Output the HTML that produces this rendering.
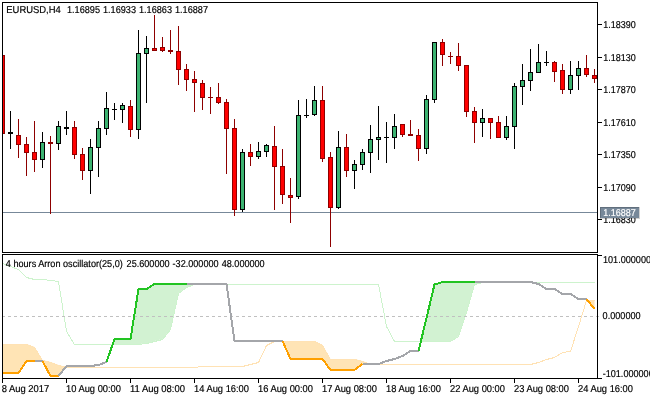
<!DOCTYPE html>
<html><head><meta charset="utf-8"><title>EURUSD H4 chart</title>
<style>html,body{margin:0;padding:0;background:#fff}body{width:650px;height:400px;overflow:hidden}</style></head>
<body>
<svg width="650" height="400" viewBox="0 0 650 400" style="display:block;font-family:'Liberation Sans',sans-serif;font-size:10px;text-rendering:geometricPrecision">
<rect width="650" height="400" fill="#fff"/>
<g>
<polygon points="2.5,263.00 3.5,263.38 4.5,263.75 5.5,264.12 6.5,264.50 7.5,264.88 8.5,265.25 9.5,265.62 10.5,266.00 11.5,266.38 12.5,266.75 13.5,267.12 14.5,267.50 15.5,267.88 16.5,268.25 17.5,268.62 18.5,269.00 19.5,270.00 20.5,271.00 21.5,272.00 22.5,273.00 23.5,274.00 24.5,275.00 25.5,276.00 26.5,277.00 27.5,277.25 28.5,277.50 29.5,277.75 30.5,278.00 31.5,278.25 32.5,278.50 33.5,278.75 34.5,279.00 35.5,279.00 36.5,279.00 37.5,279.00 38.5,279.00 39.5,279.00 40.5,279.00 41.5,279.00 42.5,279.00 43.5,279.12 44.5,279.25 45.5,279.38 46.5,279.50 47.5,279.62 48.5,279.75 49.5,279.88 50.5,280.00 51.5,280.12 52.5,280.25 53.5,280.38 54.5,280.50 55.5,280.62 56.5,280.75 57.5,280.88 58.5,281.00 59.5,287.25 60.5,293.50 61.5,299.75 62.5,306.00 63.5,312.25 64.5,318.50 65.5,324.75 66.5,331.00 67.5,332.62 68.5,334.25 69.5,335.88 70.5,337.50 71.5,339.12 72.5,340.75 73.5,342.38 74.5,344.00 75.5,344.00 76.5,344.00 77.5,344.00 78.5,344.00 79.5,344.00 80.5,344.00 81.5,344.00 82.5,344.00 83.5,344.00 84.5,344.00 85.5,344.00 86.5,344.00 87.5,344.00 88.5,344.00 89.5,344.00 90.5,344.00 91.5,344.00 92.5,344.00 93.5,344.00 94.5,344.00 95.5,344.00 96.5,344.00 97.5,344.00 98.5,344.00 99.5,344.00 100.5,344.00 101.5,344.00 102.5,344.00 103.5,344.00 104.5,344.00 105.5,344.00 106.5,344.00 107.5,344.00 108.5,344.00 109.5,344.00 110.5,344.00 111.5,344.00 112.5,344.00 113.5,341.88 114.5,339.00 115.5,339.00 116.5,339.00 117.5,339.00 118.5,339.00 119.5,339.00 120.5,339.00 121.5,339.00 122.5,339.00 123.5,339.00 124.5,339.00 125.5,339.00 126.5,339.00 127.5,339.00 128.5,339.00 129.5,339.00 130.5,339.00 131.5,332.75 132.5,326.50 133.5,320.25 134.5,314.00 135.5,307.75 136.5,301.50 137.5,295.25 138.5,289.00 139.5,289.00 140.5,289.00 141.5,289.00 142.5,289.00 143.5,289.00 144.5,289.00 145.5,289.00 146.5,289.00 147.5,288.38 148.5,287.75 149.5,287.12 150.5,286.50 151.5,285.88 152.5,285.25 153.5,284.62 154.5,284.00 155.5,284.00 156.5,284.00 157.5,284.00 158.5,284.00 159.5,284.00 160.5,284.00 161.5,284.00 162.5,284.00 163.5,284.00 164.5,284.00 165.5,284.00 166.5,284.00 167.5,284.00 168.5,284.00 169.5,284.00 170.5,284.00 171.5,284.00 172.5,284.00 173.5,284.00 174.5,284.00 175.5,284.00 176.5,284.00 177.5,284.00 178.5,284.00 179.5,284.00 180.5,284.00 181.5,284.00 182.5,284.00 183.5,284.00 184.5,284.00 185.5,284.00 186.5,284.00 187.5,284.00 188.5,284.00 189.5,284.00 190.5,284.00 191.5,284.00 192.5,284.00 193.5,284.00 194.5,284.00 195.5,284.00 196.5,284.00 197.5,284.00 198.5,284.00 199.5,284.00 200.5,284.00 201.5,284.00 202.5,284.00 203.5,284.00 204.5,284.00 205.5,284.00 206.5,284.00 207.5,284.00 208.5,284.00 209.5,284.00 210.5,284.00 211.5,284.00 212.5,284.00 213.5,284.00 214.5,284.00 215.5,284.00 216.5,284.00 217.5,284.00 218.5,284.00 219.5,284.00 220.5,284.00 221.5,284.00 222.5,284.00 223.5,284.00 224.5,284.00 225.5,284.00 226.5,284.00 227.5,284.40 228.5,284.40 229.5,284.40 230.5,284.40 231.5,284.40 232.5,284.40 233.5,284.40 234.5,284.40 235.5,284.40 236.5,284.40 237.5,284.40 238.5,284.40 239.5,284.40 240.5,284.40 241.5,284.40 242.5,284.40 243.5,284.40 244.5,284.40 245.5,284.40 246.5,284.40 247.5,284.40 248.5,284.40 249.5,284.40 250.5,284.40 251.5,284.40 252.5,284.40 253.5,284.40 254.5,284.40 255.5,284.40 256.5,284.40 257.5,284.40 258.5,284.40 259.5,284.40 260.5,284.40 261.5,284.40 262.5,284.40 263.5,284.40 264.5,284.40 265.5,284.40 266.5,284.40 267.5,284.40 268.5,284.40 269.5,284.40 270.5,284.40 271.5,284.40 272.5,284.40 273.5,284.40 274.5,284.40 275.5,284.40 276.5,284.40 277.5,284.40 278.5,284.40 279.5,284.40 280.5,284.40 281.5,284.40 282.5,284.40 283.5,284.40 284.5,284.40 285.5,284.40 286.5,284.40 287.5,284.40 288.5,284.40 289.5,284.40 290.5,284.40 291.5,284.40 292.5,284.40 293.5,284.40 294.5,284.40 295.5,284.40 296.5,284.40 297.5,284.40 298.5,284.40 299.5,284.40 300.5,284.40 301.5,284.40 302.5,284.40 303.5,284.40 304.5,284.40 305.5,284.40 306.5,284.40 307.5,284.40 308.5,284.40 309.5,284.40 310.5,284.40 311.5,284.40 312.5,284.40 313.5,284.40 314.5,284.40 315.5,284.40 316.5,284.40 317.5,284.40 318.5,284.40 319.5,284.40 320.5,284.40 321.5,284.40 322.5,284.40 323.5,284.40 324.5,284.40 325.5,284.40 326.5,284.40 327.5,284.40 328.5,284.40 329.5,284.40 330.5,284.40 331.5,284.40 332.5,284.40 333.5,284.40 334.5,284.40 335.5,284.40 336.5,284.40 337.5,284.40 338.5,284.40 339.5,284.40 340.5,284.40 341.5,284.40 342.5,284.40 343.5,284.40 344.5,284.40 345.5,284.40 346.5,284.40 347.5,284.40 348.5,284.40 349.5,284.40 350.5,284.40 351.5,284.40 352.5,284.40 353.5,284.40 354.5,284.40 355.5,284.40 356.5,284.40 357.5,284.40 358.5,284.40 359.5,284.40 360.5,284.40 361.5,284.40 362.5,284.40 363.5,284.40 364.5,284.40 365.5,284.40 366.5,284.40 367.5,284.40 368.5,284.40 369.5,284.40 370.5,284.40 371.5,284.40 372.5,284.40 373.5,284.40 374.5,284.40 375.5,284.40 376.5,284.40 377.5,284.40 378.5,284.40 379.5,289.60 380.5,294.80 381.5,300.00 382.5,305.20 383.5,310.40 384.5,315.60 385.5,320.80 386.5,326.00 387.5,327.88 388.5,329.75 389.5,331.62 390.5,333.50 391.5,335.38 392.5,337.25 393.5,339.12 394.5,341.00 395.5,341.06 396.5,341.12 397.5,341.19 398.5,341.25 399.5,341.31 400.5,341.38 401.5,341.44 402.5,341.50 403.5,341.50 404.5,341.50 405.5,341.50 406.5,341.50 407.5,341.50 408.5,341.50 409.5,341.50 410.5,341.50 411.5,341.50 412.5,341.50 413.5,341.50 414.5,341.50 415.5,341.50 416.5,341.50 417.5,341.50 418.5,341.50 419.5,341.50 420.5,341.50 421.5,338.62 422.5,334.50 423.5,330.38 424.5,326.25 425.5,322.12 426.5,318.00 427.5,313.81 428.5,309.62 429.5,305.44 430.5,301.25 431.5,297.06 432.5,292.88 433.5,288.69 434.5,284.50 435.5,284.19 436.5,283.88 437.5,283.56 438.5,283.25 439.5,282.94 440.5,282.62 441.5,282.31 442.5,282.00 443.5,282.00 444.5,282.00 445.5,282.00 446.5,282.00 447.5,282.00 448.5,282.00 449.5,282.00 450.5,282.00 451.5,282.00 452.5,282.00 453.5,282.00 454.5,282.00 455.5,282.00 456.5,282.00 457.5,282.00 458.5,282.00 459.5,282.00 460.5,282.00 461.5,282.00 462.5,282.00 463.5,282.00 464.5,282.00 465.5,282.00 466.5,282.00 467.5,282.00 468.5,282.00 469.5,282.00 470.5,282.00 471.5,282.00 472.5,282.00 473.5,282.00 474.5,282.00 475.5,282.00 476.5,282.00 477.5,282.00 478.5,282.00 479.5,282.00 480.5,282.00 481.5,282.00 482.5,282.00 483.5,282.00 484.5,282.00 485.5,282.00 486.5,282.00 487.5,282.00 488.5,282.00 489.5,282.00 490.5,282.00 491.5,282.00 492.5,282.00 493.5,282.00 494.5,282.00 495.5,282.00 496.5,282.00 497.5,282.00 498.5,282.00 499.5,282.00 500.5,282.00 501.5,282.00 502.5,282.00 503.5,282.00 504.5,282.00 505.5,282.00 506.5,282.00 507.5,282.00 508.5,282.00 509.5,282.00 510.5,282.00 511.5,282.00 512.5,282.00 513.5,282.00 514.5,282.00 515.5,282.00 516.5,282.00 517.5,282.00 518.5,282.00 519.5,282.00 520.5,282.00 521.5,282.00 522.5,282.00 523.5,282.00 524.5,282.00 525.5,282.00 526.5,282.00 527.5,282.00 528.5,282.00 529.5,282.00 530.5,282.00 531.5,282.25 532.5,282.50 533.5,282.50 534.5,282.50 535.5,282.50 536.5,282.50 537.5,282.50 538.5,282.50 539.5,282.50 540.5,282.50 541.5,282.50 542.5,282.50 543.5,282.50 544.5,282.50 545.5,282.50 546.5,282.50 547.5,282.50 548.5,282.50 549.5,282.50 550.5,282.50 551.5,282.50 552.5,282.50 553.5,282.50 554.5,282.50 555.5,282.50 556.5,282.50 557.5,282.50 558.5,282.50 559.5,282.50 560.5,282.50 561.5,282.50 562.5,282.50 563.5,282.50 564.5,282.50 565.5,282.50 566.5,282.50 567.5,282.50 568.5,282.50 569.5,282.50 570.5,282.50 571.5,282.50 572.5,282.50 573.5,282.50 574.5,282.50 575.5,282.50 576.5,282.50 577.5,282.50 578.5,282.50 579.5,282.50 580.5,282.50 581.5,282.50 582.5,282.50 583.5,282.50 584.5,282.50 585.5,282.50 586.5,282.50 587.5,282.50 588.5,282.50 589.5,282.50 590.5,282.50 591.5,282.50 592.5,282.50 593.5,282.50 594.5,282.50 594.5,282.50 593.5,282.50 592.5,282.50 591.5,282.50 590.5,282.50 589.5,282.50 588.5,282.50 587.5,282.50 586.5,282.50 585.5,282.50 584.5,282.50 583.5,282.50 582.5,282.50 581.5,282.50 580.5,282.50 579.5,282.50 578.5,282.50 577.5,282.50 576.5,282.50 575.5,282.50 574.5,282.50 573.5,282.50 572.5,282.50 571.5,282.50 570.5,282.50 569.5,282.50 568.5,282.50 567.5,282.50 566.5,282.50 565.5,282.50 564.5,282.50 563.5,282.50 562.5,282.50 561.5,282.50 560.5,282.50 559.5,282.50 558.5,282.50 557.5,282.50 556.5,282.50 555.5,282.50 554.5,282.50 553.5,282.50 552.5,282.50 551.5,282.50 550.5,282.50 549.5,282.50 548.5,282.50 547.5,282.50 546.5,282.50 545.5,282.50 544.5,282.50 543.5,282.50 542.5,282.50 541.5,282.50 540.5,282.50 539.5,282.50 538.5,282.50 537.5,282.50 536.5,282.50 535.5,282.50 534.5,282.50 533.5,282.50 532.5,282.50 531.5,282.50 530.5,282.50 529.5,282.50 528.5,282.50 527.5,282.50 526.5,282.50 525.5,282.50 524.5,282.50 523.5,282.50 522.5,282.50 521.5,282.50 520.5,282.50 519.5,282.50 518.5,282.50 517.5,282.50 516.5,282.50 515.5,282.50 514.5,282.50 513.5,282.50 512.5,282.50 511.5,282.50 510.5,282.50 509.5,282.50 508.5,282.50 507.5,282.50 506.5,282.50 505.5,282.50 504.5,282.50 503.5,282.50 502.5,282.50 501.5,282.50 500.5,282.50 499.5,282.50 498.5,282.50 497.5,282.50 496.5,282.50 495.5,282.50 494.5,282.50 493.5,282.50 492.5,282.50 491.5,282.50 490.5,282.50 489.5,282.50 488.5,282.50 487.5,282.50 486.5,282.50 485.5,282.50 484.5,282.50 483.5,282.50 482.5,282.50 481.5,282.69 480.5,282.88 479.5,283.06 478.5,283.25 477.5,283.44 476.5,283.62 475.5,283.81 474.5,284.00 473.5,287.50 472.5,291.00 471.5,294.50 470.5,298.00 469.5,301.50 468.5,305.00 467.5,308.50 466.5,312.00 465.5,315.00 464.5,318.00 463.5,321.00 462.5,324.00 461.5,327.00 460.5,330.00 459.5,333.00 458.5,336.00 457.5,336.69 456.5,337.38 455.5,338.06 454.5,338.75 453.5,339.44 452.5,340.12 451.5,340.81 450.5,341.50 449.5,341.50 448.5,341.50 447.5,341.50 446.5,341.50 445.5,341.50 444.5,341.50 443.5,341.50 442.5,341.50 441.5,341.50 440.5,341.50 439.5,341.50 438.5,341.50 437.5,341.50 436.5,341.50 435.5,341.50 434.5,341.50 433.5,341.50 432.5,341.50 431.5,341.50 430.5,341.50 429.5,341.50 428.5,341.50 427.5,341.50 426.5,341.50 425.5,341.50 424.5,341.50 423.5,341.50 422.5,341.50 421.5,341.50 420.5,341.50 419.5,341.50 418.5,341.50 417.5,341.50 416.5,341.50 415.5,341.50 414.5,341.50 413.5,341.50 412.5,341.50 411.5,341.50 410.5,341.50 409.5,341.50 408.5,341.50 407.5,341.50 406.5,341.50 405.5,341.50 404.5,341.50 403.5,341.50 402.5,341.50 401.5,341.44 400.5,341.38 399.5,341.31 398.5,341.25 397.5,341.19 396.5,341.12 395.5,341.06 394.5,341.00 393.5,339.12 392.5,337.25 391.5,335.38 390.5,333.50 389.5,331.62 388.5,329.75 387.5,327.88 386.5,326.00 385.5,320.80 384.5,315.60 383.5,310.40 382.5,305.20 381.5,300.00 380.5,294.80 379.5,289.60 378.5,284.40 377.5,284.40 376.5,284.40 375.5,284.40 374.5,284.40 373.5,284.40 372.5,284.40 371.5,284.40 370.5,284.40 369.5,284.40 368.5,284.40 367.5,284.40 366.5,284.40 365.5,284.40 364.5,284.40 363.5,284.40 362.5,284.40 361.5,284.40 360.5,284.40 359.5,284.40 358.5,284.40 357.5,284.40 356.5,284.40 355.5,284.40 354.5,284.40 353.5,284.40 352.5,284.40 351.5,284.40 350.5,284.40 349.5,284.40 348.5,284.40 347.5,284.40 346.5,284.40 345.5,284.40 344.5,284.40 343.5,284.40 342.5,284.40 341.5,284.40 340.5,284.40 339.5,284.40 338.5,284.40 337.5,284.40 336.5,284.40 335.5,284.40 334.5,284.40 333.5,284.40 332.5,284.40 331.5,284.40 330.5,284.40 329.5,284.40 328.5,284.40 327.5,284.40 326.5,284.40 325.5,284.40 324.5,284.40 323.5,284.40 322.5,284.40 321.5,284.40 320.5,284.40 319.5,284.40 318.5,284.40 317.5,284.40 316.5,284.40 315.5,284.40 314.5,284.40 313.5,284.40 312.5,284.40 311.5,284.40 310.5,284.40 309.5,284.40 308.5,284.40 307.5,284.40 306.5,284.40 305.5,284.40 304.5,284.40 303.5,284.40 302.5,284.40 301.5,284.40 300.5,284.40 299.5,284.40 298.5,284.40 297.5,284.40 296.5,284.40 295.5,284.40 294.5,284.40 293.5,284.40 292.5,284.40 291.5,284.40 290.5,284.40 289.5,284.40 288.5,284.40 287.5,284.40 286.5,284.40 285.5,284.40 284.5,284.40 283.5,284.40 282.5,284.40 281.5,284.40 280.5,284.40 279.5,284.40 278.5,284.40 277.5,284.40 276.5,284.40 275.5,284.40 274.5,284.40 273.5,284.40 272.5,284.40 271.5,284.40 270.5,284.40 269.5,284.40 268.5,284.40 267.5,284.40 266.5,284.40 265.5,284.40 264.5,284.40 263.5,284.40 262.5,284.40 261.5,284.40 260.5,284.40 259.5,284.40 258.5,284.40 257.5,284.40 256.5,284.40 255.5,284.40 254.5,284.40 253.5,284.40 252.5,284.40 251.5,284.40 250.5,284.40 249.5,284.40 248.5,284.40 247.5,284.40 246.5,284.40 245.5,284.40 244.5,284.40 243.5,284.40 242.5,284.40 241.5,284.40 240.5,284.40 239.5,284.40 238.5,284.40 237.5,284.40 236.5,284.40 235.5,284.40 234.5,284.40 233.5,284.40 232.5,284.40 231.5,284.40 230.5,284.40 229.5,284.40 228.5,284.40 227.5,284.40 226.5,284.40 225.5,284.40 224.5,284.40 223.5,284.40 222.5,284.40 221.5,284.40 220.5,284.40 219.5,284.40 218.5,284.40 217.5,284.40 216.5,284.40 215.5,284.40 214.5,284.40 213.5,284.40 212.5,284.40 211.5,284.40 210.5,284.40 209.5,284.40 208.5,284.40 207.5,284.40 206.5,284.40 205.5,284.40 204.5,284.40 203.5,284.40 202.5,284.40 201.5,284.41 200.5,284.42 199.5,284.44 198.5,284.45 197.5,284.46 196.5,284.48 195.5,284.49 194.5,284.50 193.5,284.88 192.5,285.25 191.5,285.62 190.5,286.00 189.5,286.38 188.5,286.75 187.5,287.12 186.5,287.50 185.5,288.19 184.5,288.88 183.5,289.56 182.5,290.25 181.5,290.94 180.5,291.62 179.5,292.31 178.5,293.00 177.5,297.50 176.5,302.00 175.5,306.50 174.5,311.00 173.5,315.50 172.5,320.00 171.5,324.50 170.5,329.00 169.5,330.25 168.5,331.50 167.5,332.75 166.5,334.00 165.5,335.25 164.5,336.50 163.5,337.75 162.5,339.00 161.5,339.25 160.5,339.50 159.5,339.75 158.5,340.00 157.5,340.25 156.5,340.50 155.5,340.75 154.5,341.00 153.5,341.31 152.5,341.62 151.5,341.94 150.5,342.25 149.5,342.56 148.5,342.88 147.5,343.19 146.5,343.50 145.5,343.56 144.5,343.62 143.5,343.69 142.5,343.75 141.5,343.81 140.5,343.88 139.5,343.94 138.5,344.00 137.5,344.00 136.5,344.00 135.5,344.00 134.5,344.00 133.5,344.00 132.5,344.00 131.5,344.00 130.5,344.00 129.5,344.00 128.5,344.00 127.5,344.00 126.5,344.00 125.5,344.00 124.5,344.00 123.5,344.00 122.5,344.00 121.5,344.00 120.5,344.00 119.5,344.00 118.5,344.00 117.5,344.00 116.5,344.00 115.5,344.00 114.5,344.00 113.5,344.00 112.5,344.00 111.5,344.00 110.5,344.00 109.5,344.00 108.5,344.00 107.5,344.00 106.5,344.00 105.5,344.00 104.5,344.00 103.5,344.00 102.5,344.00 101.5,344.00 100.5,344.00 99.5,344.00 98.5,344.00 97.5,344.00 96.5,344.00 95.5,344.00 94.5,344.00 93.5,344.00 92.5,344.00 91.5,344.00 90.5,344.00 89.5,344.00 88.5,344.00 87.5,344.00 86.5,344.00 85.5,344.00 84.5,344.00 83.5,344.00 82.5,344.00 81.5,344.00 80.5,344.00 79.5,344.00 78.5,344.00 77.5,344.00 76.5,344.00 75.5,344.00 74.5,344.00 73.5,342.38 72.5,340.75 71.5,339.12 70.5,337.50 69.5,335.88 68.5,334.25 67.5,332.62 66.5,331.00 65.5,324.75 64.5,318.50 63.5,312.25 62.5,306.00 61.5,299.75 60.5,293.50 59.5,287.25 58.5,281.00 57.5,280.88 56.5,280.75 55.5,280.62 54.5,280.50 53.5,280.38 52.5,280.25 51.5,280.12 50.5,280.00 49.5,279.88 48.5,279.75 47.5,279.62 46.5,279.50 45.5,279.38 44.5,279.25 43.5,279.12 42.5,279.00 41.5,279.00 40.5,279.00 39.5,279.00 38.5,279.00 37.5,279.00 36.5,279.00 35.5,279.00 34.5,279.00 33.5,278.75 32.5,278.50 31.5,278.25 30.5,278.00 29.5,277.75 28.5,277.50 27.5,277.25 26.5,277.00 25.5,276.00 24.5,275.00 23.5,274.00 22.5,273.00 21.5,272.00 20.5,271.00 19.5,270.00 18.5,269.00 17.5,268.62 16.5,268.25 15.5,267.88 14.5,267.50 13.5,267.12 12.5,266.75 11.5,266.38 10.5,266.00 9.5,265.62 8.5,265.25 7.5,264.88 6.5,264.50 5.5,264.12 4.5,263.75 3.5,263.38 2.5,263.00" fill="#d2f2d2"/>
<polygon points="2.5,344.00 3.5,344.00 4.5,344.00 5.5,344.00 6.5,344.00 7.5,344.00 8.5,344.00 9.5,344.00 10.5,344.00 11.5,344.00 12.5,344.00 13.5,344.00 14.5,344.00 15.5,344.00 16.5,344.00 17.5,344.00 18.5,344.00 19.5,344.00 20.5,344.00 21.5,344.00 22.5,344.00 23.5,344.00 24.5,344.00 25.5,344.00 26.5,344.00 27.5,344.38 28.5,344.75 29.5,345.12 30.5,345.50 31.5,345.88 32.5,346.25 33.5,346.62 34.5,347.00 35.5,348.62 36.5,350.25 37.5,351.88 38.5,353.50 39.5,355.12 40.5,356.75 41.5,358.38 42.5,360.00 43.5,360.25 44.5,360.50 45.5,360.75 46.5,361.00 47.5,361.25 48.5,361.50 49.5,361.75 50.5,362.00 51.5,362.38 52.5,362.75 53.5,363.12 54.5,363.50 55.5,363.88 56.5,364.25 57.5,364.62 58.5,365.00 59.5,365.25 60.5,365.50 61.5,365.75 62.5,366.00 63.5,366.25 64.5,366.50 65.5,366.75 66.5,367.00 67.5,367.05 68.5,367.10 69.5,367.15 70.5,367.20 71.5,367.25 72.5,367.30 73.5,367.35 74.5,367.40 75.5,367.40 76.5,367.40 77.5,367.40 78.5,367.40 79.5,367.40 80.5,367.40 81.5,367.40 82.5,367.40 83.5,367.40 84.5,367.40 85.5,367.40 86.5,367.40 87.5,367.40 88.5,367.40 89.5,367.40 90.5,367.40 91.5,367.40 92.5,367.40 93.5,367.40 94.5,367.40 95.5,367.40 96.5,367.40 97.5,367.40 98.5,367.40 99.5,367.40 100.5,367.40 101.5,367.40 102.5,367.40 103.5,367.40 104.5,367.40 105.5,367.40 106.5,367.40 107.5,367.40 108.5,367.40 109.5,367.40 110.5,367.40 111.5,367.40 112.5,367.40 113.5,367.40 114.5,367.40 115.5,367.40 116.5,367.40 117.5,367.40 118.5,367.40 119.5,367.40 120.5,367.40 121.5,367.40 122.5,367.40 123.5,367.40 124.5,367.40 125.5,367.40 126.5,367.40 127.5,367.40 128.5,367.40 129.5,367.40 130.5,367.40 131.5,367.40 132.5,367.40 133.5,367.40 134.5,367.40 135.5,367.40 136.5,367.40 137.5,367.40 138.5,367.40 139.5,367.40 140.5,367.40 141.5,367.40 142.5,367.40 143.5,367.40 144.5,367.40 145.5,367.40 146.5,367.40 147.5,367.40 148.5,367.40 149.5,367.40 150.5,367.40 151.5,367.40 152.5,367.40 153.5,367.40 154.5,367.40 155.5,367.40 156.5,367.40 157.5,367.40 158.5,367.40 159.5,367.40 160.5,367.40 161.5,367.40 162.5,367.40 163.5,367.40 164.5,367.40 165.5,367.40 166.5,367.40 167.5,367.40 168.5,367.40 169.5,367.40 170.5,367.40 171.5,367.40 172.5,367.40 173.5,367.40 174.5,367.40 175.5,367.40 176.5,367.40 177.5,367.40 178.5,367.40 179.5,367.40 180.5,367.40 181.5,367.40 182.5,367.40 183.5,367.40 184.5,367.40 185.5,367.40 186.5,367.40 187.5,367.40 188.5,367.40 189.5,367.40 190.5,367.40 191.5,367.40 192.5,367.40 193.5,367.40 194.5,367.40 195.5,367.30 196.5,367.20 197.5,367.10 198.5,367.00 199.5,366.90 200.5,366.80 201.5,366.70 202.5,366.60 203.5,366.60 204.5,366.60 205.5,366.60 206.5,366.60 207.5,366.60 208.5,366.60 209.5,366.60 210.5,366.60 211.5,366.60 212.5,366.60 213.5,366.60 214.5,366.60 215.5,366.60 216.5,366.60 217.5,366.60 218.5,366.60 219.5,366.60 220.5,366.60 221.5,366.60 222.5,366.60 223.5,366.60 224.5,366.60 225.5,366.60 226.5,366.60 227.5,366.60 228.5,366.60 229.5,366.60 230.5,366.60 231.5,366.60 232.5,366.60 233.5,366.60 234.5,366.60 235.5,366.53 236.5,366.45 237.5,366.38 238.5,366.30 239.5,366.23 240.5,366.15 241.5,366.07 242.5,366.00 243.5,365.75 244.5,365.50 245.5,365.25 246.5,365.00 247.5,364.75 248.5,364.50 249.5,364.25 250.5,364.00 251.5,363.75 252.5,363.50 253.5,363.25 254.5,363.00 255.5,362.75 256.5,362.50 257.5,362.25 258.5,362.00 259.5,359.88 260.5,357.75 261.5,355.62 262.5,353.50 263.5,351.38 264.5,349.25 265.5,347.12 266.5,345.00 267.5,344.56 268.5,344.12 269.5,343.69 270.5,343.25 271.5,342.81 272.5,342.38 273.5,341.94 274.5,341.50 275.5,341.50 276.5,341.50 277.5,341.50 278.5,341.50 279.5,341.50 280.5,341.50 281.5,341.50 282.5,341.50 283.5,341.50 284.5,341.50 285.5,341.50 286.5,341.50 287.5,341.50 288.5,341.50 289.5,341.50 290.5,341.50 291.5,341.50 292.5,341.50 293.5,341.50 294.5,341.50 295.5,341.50 296.5,341.50 297.5,341.50 298.5,341.50 299.5,341.50 300.5,341.50 301.5,341.50 302.5,341.50 303.5,341.50 304.5,341.50 305.5,341.50 306.5,341.50 307.5,341.50 308.5,341.50 309.5,341.50 310.5,341.50 311.5,341.50 312.5,341.50 313.5,341.50 314.5,341.50 315.5,341.94 316.5,342.38 317.5,342.81 318.5,343.25 319.5,343.69 320.5,344.12 321.5,344.56 322.5,345.00 323.5,346.75 324.5,348.50 325.5,350.25 326.5,352.00 327.5,353.75 328.5,355.50 329.5,357.25 330.5,359.00 331.5,359.00 332.5,359.00 333.5,359.00 334.5,359.00 335.5,359.00 336.5,359.00 337.5,359.00 338.5,359.00 339.5,359.00 340.5,359.00 341.5,359.00 342.5,359.00 343.5,359.00 344.5,359.00 345.5,359.00 346.5,359.00 347.5,359.00 348.5,359.00 349.5,359.00 350.5,359.00 351.5,359.00 352.5,359.00 353.5,359.00 354.5,359.00 355.5,359.25 356.5,359.50 357.5,359.75 358.5,360.00 359.5,360.25 360.5,360.50 361.5,360.75 362.5,361.00 363.5,361.38 364.5,361.75 365.5,362.12 366.5,362.50 367.5,362.88 368.5,363.25 369.5,363.62 370.5,364.00 371.5,364.00 372.5,364.00 373.5,364.00 374.5,364.00 375.5,364.00 376.5,364.00 377.5,364.00 378.5,364.00 379.5,364.00 380.5,364.00 381.5,364.00 382.5,364.00 383.5,364.00 384.5,364.00 385.5,364.00 386.5,364.00 387.5,364.00 388.5,364.00 389.5,364.00 390.5,364.00 391.5,364.00 392.5,364.00 393.5,364.00 394.5,364.00 395.5,364.00 396.5,364.00 397.5,364.00 398.5,364.00 399.5,364.00 400.5,364.00 401.5,364.00 402.5,364.00 403.5,364.00 404.5,364.00 405.5,364.00 406.5,364.00 407.5,364.00 408.5,364.00 409.5,364.00 410.5,364.00 411.5,364.00 412.5,364.00 413.5,364.00 414.5,364.00 415.5,364.00 416.5,364.00 417.5,364.00 418.5,364.00 419.5,364.00 420.5,364.00 421.5,364.00 422.5,364.00 423.5,364.00 424.5,364.00 425.5,364.00 426.5,364.00 427.5,364.00 428.5,364.00 429.5,364.00 430.5,364.00 431.5,364.00 432.5,364.00 433.5,364.00 434.5,364.00 435.5,364.00 436.5,364.00 437.5,364.00 438.5,364.00 439.5,364.00 440.5,364.00 441.5,364.00 442.5,364.00 443.5,364.00 444.5,364.00 445.5,364.00 446.5,364.00 447.5,364.00 448.5,364.00 449.5,364.00 450.5,364.00 451.5,364.00 452.5,364.00 453.5,364.00 454.5,364.00 455.5,364.00 456.5,364.00 457.5,364.00 458.5,364.00 459.5,364.00 460.5,364.00 461.5,364.00 462.5,364.00 463.5,364.00 464.5,364.00 465.5,364.00 466.5,364.00 467.5,364.00 468.5,364.00 469.5,364.00 470.5,364.00 471.5,364.00 472.5,364.00 473.5,364.00 474.5,364.00 475.5,364.00 476.5,364.00 477.5,364.00 478.5,364.00 479.5,364.00 480.5,364.00 481.5,364.00 482.5,364.00 483.5,364.00 484.5,364.00 485.5,364.00 486.5,364.00 487.5,364.00 488.5,364.00 489.5,364.00 490.5,364.00 491.5,364.00 492.5,364.00 493.5,364.00 494.5,364.00 495.5,364.00 496.5,364.00 497.5,364.00 498.5,364.00 499.5,364.00 500.5,364.00 501.5,364.00 502.5,364.00 503.5,364.00 504.5,364.00 505.5,364.00 506.5,364.00 507.5,364.00 508.5,364.00 509.5,364.00 510.5,364.00 511.5,364.00 512.5,364.00 513.5,364.00 514.5,364.00 515.5,364.00 516.5,364.00 517.5,364.00 518.5,364.00 519.5,364.00 520.5,364.00 521.5,364.00 522.5,364.00 523.5,364.00 524.5,364.00 525.5,364.00 526.5,364.00 527.5,364.00 528.5,364.00 529.5,364.00 530.5,364.00 531.5,363.81 532.5,363.62 533.5,363.44 534.5,363.25 535.5,363.06 536.5,362.88 537.5,362.69 538.5,362.50 539.5,362.06 540.5,361.62 541.5,361.19 542.5,360.75 543.5,360.31 544.5,359.88 545.5,359.44 546.5,359.00 547.5,358.75 548.5,358.50 549.5,358.25 550.5,358.00 551.5,357.75 552.5,357.50 553.5,357.25 554.5,357.00 555.5,356.44 556.5,355.88 557.5,355.31 558.5,354.75 559.5,354.19 560.5,353.62 561.5,353.06 562.5,352.50 563.5,352.31 564.5,352.12 565.5,351.94 566.5,351.75 567.5,351.56 568.5,351.38 569.5,351.19 570.5,351.00 571.5,347.88 572.5,344.75 573.5,341.62 574.5,338.50 575.5,335.38 576.5,332.25 577.5,329.12 578.5,326.00 579.5,322.75 580.5,319.50 581.5,316.25 582.5,313.00 583.5,309.75 584.5,306.50 585.5,303.25 586.5,300.00 587.5,300.00 588.5,300.00 589.5,300.00 590.5,300.00 591.5,300.00 592.5,300.00 593.5,300.00 594.5,300.00 594.5,309.00 593.5,307.75 592.5,306.50 591.5,305.25 590.5,304.00 589.5,302.75 588.5,301.50 587.5,300.25 586.5,300.00 585.5,303.25 584.5,306.50 583.5,309.75 582.5,313.00 581.5,316.25 580.5,319.50 579.5,322.75 578.5,326.00 577.5,329.12 576.5,332.25 575.5,335.38 574.5,338.50 573.5,341.62 572.5,344.75 571.5,347.88 570.5,351.00 569.5,351.19 568.5,351.38 567.5,351.56 566.5,351.75 565.5,351.94 564.5,352.12 563.5,352.31 562.5,352.50 561.5,353.06 560.5,353.62 559.5,354.19 558.5,354.75 557.5,355.31 556.5,355.88 555.5,356.44 554.5,357.00 553.5,357.25 552.5,357.50 551.5,357.75 550.5,358.00 549.5,358.25 548.5,358.50 547.5,358.75 546.5,359.00 545.5,359.44 544.5,359.88 543.5,360.31 542.5,360.75 541.5,361.19 540.5,361.62 539.5,362.06 538.5,362.50 537.5,362.69 536.5,362.88 535.5,363.06 534.5,363.25 533.5,363.44 532.5,363.62 531.5,363.81 530.5,364.00 529.5,364.00 528.5,364.00 527.5,364.00 526.5,364.00 525.5,364.00 524.5,364.00 523.5,364.00 522.5,364.00 521.5,364.00 520.5,364.00 519.5,364.00 518.5,364.00 517.5,364.00 516.5,364.00 515.5,364.00 514.5,364.00 513.5,364.00 512.5,364.00 511.5,364.00 510.5,364.00 509.5,364.00 508.5,364.00 507.5,364.00 506.5,364.00 505.5,364.00 504.5,364.00 503.5,364.00 502.5,364.00 501.5,364.00 500.5,364.00 499.5,364.00 498.5,364.00 497.5,364.00 496.5,364.00 495.5,364.00 494.5,364.00 493.5,364.00 492.5,364.00 491.5,364.00 490.5,364.00 489.5,364.00 488.5,364.00 487.5,364.00 486.5,364.00 485.5,364.00 484.5,364.00 483.5,364.00 482.5,364.00 481.5,364.00 480.5,364.00 479.5,364.00 478.5,364.00 477.5,364.00 476.5,364.00 475.5,364.00 474.5,364.00 473.5,364.00 472.5,364.00 471.5,364.00 470.5,364.00 469.5,364.00 468.5,364.00 467.5,364.00 466.5,364.00 465.5,364.00 464.5,364.00 463.5,364.00 462.5,364.00 461.5,364.00 460.5,364.00 459.5,364.00 458.5,364.00 457.5,364.00 456.5,364.00 455.5,364.00 454.5,364.00 453.5,364.00 452.5,364.00 451.5,364.00 450.5,364.00 449.5,364.00 448.5,364.00 447.5,364.00 446.5,364.00 445.5,364.00 444.5,364.00 443.5,364.00 442.5,364.00 441.5,364.00 440.5,364.00 439.5,364.00 438.5,364.00 437.5,364.00 436.5,364.00 435.5,364.00 434.5,364.00 433.5,364.00 432.5,364.00 431.5,364.00 430.5,364.00 429.5,364.00 428.5,364.00 427.5,364.00 426.5,364.00 425.5,364.00 424.5,364.00 423.5,364.00 422.5,364.00 421.5,364.00 420.5,364.00 419.5,364.00 418.5,364.00 417.5,364.00 416.5,364.00 415.5,364.00 414.5,364.00 413.5,364.00 412.5,364.00 411.5,364.00 410.5,364.00 409.5,364.00 408.5,364.00 407.5,364.00 406.5,364.00 405.5,364.00 404.5,364.00 403.5,364.00 402.5,364.00 401.5,364.00 400.5,364.00 399.5,364.00 398.5,364.00 397.5,364.00 396.5,364.00 395.5,364.00 394.5,364.00 393.5,364.00 392.5,364.00 391.5,364.00 390.5,364.00 389.5,364.00 388.5,364.00 387.5,364.00 386.5,364.00 385.5,364.00 384.5,364.00 383.5,364.00 382.5,364.00 381.5,364.00 380.5,364.00 379.5,364.00 378.5,364.00 377.5,364.00 376.5,364.00 375.5,364.00 374.5,364.00 373.5,364.00 372.5,364.00 371.5,364.00 370.5,364.00 369.5,364.00 368.5,364.00 367.5,364.00 366.5,364.00 365.5,364.00 364.5,364.00 363.5,364.00 362.5,364.00 361.5,364.75 360.5,365.50 359.5,366.25 358.5,367.00 357.5,367.75 356.5,368.50 355.5,369.25 354.5,370.00 353.5,370.00 352.5,370.00 351.5,370.00 350.5,370.00 349.5,370.00 348.5,370.00 347.5,370.00 346.5,370.00 345.5,370.00 344.5,370.00 343.5,370.00 342.5,370.00 341.5,370.00 340.5,370.00 339.5,370.00 338.5,370.00 337.5,370.00 336.5,370.00 335.5,370.00 334.5,370.00 333.5,370.00 332.5,370.00 331.5,370.00 330.5,370.00 329.5,368.62 328.5,367.25 327.5,365.88 326.5,364.50 325.5,363.12 324.5,361.75 323.5,360.38 322.5,359.00 321.5,359.00 320.5,359.00 319.5,359.00 318.5,359.00 317.5,359.00 316.5,359.00 315.5,359.00 314.5,359.00 313.5,359.00 312.5,359.00 311.5,359.00 310.5,359.00 309.5,359.00 308.5,359.00 307.5,359.00 306.5,359.00 305.5,359.00 304.5,359.00 303.5,359.00 302.5,359.00 301.5,359.00 300.5,359.00 299.5,359.00 298.5,359.00 297.5,359.00 296.5,359.00 295.5,359.00 294.5,359.00 293.5,359.00 292.5,359.00 291.5,359.00 290.5,359.00 289.5,356.75 288.5,354.50 287.5,352.25 286.5,350.00 285.5,347.75 284.5,345.50 283.5,343.25 282.5,341.50 281.5,341.50 280.5,341.50 279.5,341.50 278.5,341.50 277.5,341.50 276.5,341.50 275.5,341.50 274.5,341.50 273.5,341.94 272.5,342.38 271.5,342.81 270.5,343.25 269.5,343.69 268.5,344.12 267.5,344.56 266.5,345.00 265.5,347.12 264.5,349.25 263.5,351.38 262.5,353.50 261.5,355.62 260.5,357.75 259.5,359.88 258.5,362.00 257.5,362.25 256.5,362.50 255.5,362.75 254.5,363.00 253.5,363.25 252.5,363.50 251.5,363.75 250.5,364.00 249.5,364.25 248.5,364.50 247.5,364.75 246.5,365.00 245.5,365.25 244.5,365.50 243.5,365.75 242.5,366.00 241.5,366.07 240.5,366.15 239.5,366.23 238.5,366.30 237.5,366.38 236.5,366.45 235.5,366.53 234.5,366.60 233.5,366.60 232.5,366.60 231.5,366.60 230.5,366.60 229.5,366.60 228.5,366.60 227.5,366.60 226.5,366.60 225.5,366.60 224.5,366.60 223.5,366.60 222.5,366.60 221.5,366.60 220.5,366.60 219.5,366.60 218.5,366.60 217.5,366.60 216.5,366.60 215.5,366.60 214.5,366.60 213.5,366.60 212.5,366.60 211.5,366.60 210.5,366.60 209.5,366.60 208.5,366.60 207.5,366.60 206.5,366.60 205.5,366.60 204.5,366.60 203.5,366.60 202.5,366.60 201.5,366.70 200.5,366.80 199.5,366.90 198.5,367.00 197.5,367.10 196.5,367.20 195.5,367.30 194.5,367.40 193.5,367.40 192.5,367.40 191.5,367.40 190.5,367.40 189.5,367.40 188.5,367.40 187.5,367.40 186.5,367.40 185.5,367.40 184.5,367.40 183.5,367.40 182.5,367.40 181.5,367.40 180.5,367.40 179.5,367.40 178.5,367.40 177.5,367.40 176.5,367.40 175.5,367.40 174.5,367.40 173.5,367.40 172.5,367.40 171.5,367.40 170.5,367.40 169.5,367.40 168.5,367.40 167.5,367.40 166.5,367.40 165.5,367.40 164.5,367.40 163.5,367.40 162.5,367.40 161.5,367.40 160.5,367.40 159.5,367.40 158.5,367.40 157.5,367.40 156.5,367.40 155.5,367.40 154.5,367.40 153.5,367.40 152.5,367.40 151.5,367.40 150.5,367.40 149.5,367.40 148.5,367.40 147.5,367.40 146.5,367.40 145.5,367.40 144.5,367.40 143.5,367.40 142.5,367.40 141.5,367.40 140.5,367.40 139.5,367.40 138.5,367.40 137.5,367.40 136.5,367.40 135.5,367.40 134.5,367.40 133.5,367.40 132.5,367.40 131.5,367.40 130.5,367.40 129.5,367.40 128.5,367.40 127.5,367.40 126.5,367.40 125.5,367.40 124.5,367.40 123.5,367.40 122.5,367.40 121.5,367.40 120.5,367.40 119.5,367.40 118.5,367.40 117.5,367.40 116.5,367.40 115.5,367.40 114.5,367.40 113.5,367.40 112.5,367.40 111.5,367.40 110.5,367.40 109.5,367.40 108.5,367.40 107.5,367.40 106.5,367.40 105.5,367.40 104.5,367.40 103.5,367.40 102.5,367.40 101.5,367.40 100.5,367.40 99.5,367.40 98.5,367.40 97.5,367.40 96.5,367.40 95.5,367.40 94.5,367.40 93.5,367.40 92.5,367.40 91.5,367.40 90.5,367.40 89.5,367.40 88.5,367.40 87.5,367.40 86.5,367.40 85.5,367.40 84.5,367.40 83.5,367.40 82.5,367.40 81.5,367.40 80.5,367.40 79.5,367.40 78.5,367.40 77.5,367.40 76.5,367.40 75.5,367.40 74.5,367.40 73.5,367.35 72.5,367.30 71.5,367.25 70.5,367.20 69.5,367.15 68.5,367.10 67.5,367.05 66.5,367.00 65.5,367.25 64.5,368.50 63.5,369.75 62.5,371.00 61.5,372.25 60.5,373.50 59.5,374.75 58.5,376.00 57.5,376.00 56.5,376.00 55.5,376.00 54.5,376.00 53.5,376.00 52.5,376.00 51.5,376.00 50.5,376.00 49.5,374.12 48.5,372.25 47.5,370.38 46.5,368.50 45.5,366.62 44.5,364.75 43.5,362.88 42.5,361.00 41.5,361.00 40.5,361.00 39.5,361.00 38.5,361.00 37.5,361.00 36.5,361.00 35.5,361.00 34.5,361.00 33.5,361.00 32.5,361.00 31.5,361.00 30.5,361.00 29.5,361.00 28.5,361.00 27.5,361.00 26.5,361.00 25.5,362.50 24.5,364.00 23.5,365.50 22.5,367.00 21.5,368.50 20.5,370.00 19.5,371.50 18.5,373.00 17.5,373.00 16.5,373.00 15.5,373.00 14.5,373.00 13.5,373.00 12.5,373.00 11.5,373.00 10.5,373.00 9.5,373.00 8.5,373.00 7.5,373.00 6.5,373.00 5.5,373.00 4.5,373.00 3.5,373.00 2.5,373.00" fill="#ffe4b5"/>
<polyline points="2.5,263.5 10.5,266.5 18.5,269.5 26.5,277.5 34.5,279.5 42.5,279.5 50.5,280.5 58.5,281.5 66.5,331.5 74.5,344.5 82.5,344.5 90.5,344.5 98.5,344.5 106.5,344.5 114.5,344.5 122.5,344.5 130.5,344.5 138.5,344.5 146.5,343.5 154.5,341.5 162.5,339.5 170.5,329.5 178.5,293.5 186.5,287.5 194.5,284.5 202.5,284.5 210.5,284.5 218.5,284.5 226.5,284.5 234.5,284.5 242.5,284.5 250.5,284.5 258.5,284.5 266.5,284.5 274.5,284.5 282.5,284.5 290.5,284.5 298.5,284.5 306.5,284.5 314.5,284.5 322.5,284.5 330.5,284.5 338.5,284.5 346.5,284.5 354.5,284.5 362.5,284.5 370.5,284.5 378.5,284.5 386.5,326.5 394.5,341.5 402.5,341.5 410.5,341.5 418.5,341.5 426.5,341.5 434.5,341.5 442.5,341.5 450.5,341.5 458.5,336.5 466.5,312.5 474.5,284.5 482.5,282.5 490.5,282.5 498.5,282.5 506.5,282.5 514.5,282.5 522.5,282.5 530.5,282.5 538.5,282.5 546.5,282.5 554.5,282.5 562.5,282.5 570.5,282.5 578.5,282.5 586.5,282.5 594.5,282.5" fill="none" stroke="#cdf3cd" stroke-width="1" shape-rendering="crispEdges"/>
<polyline points="2.5,344.5 10.5,344.5 18.5,344.5 26.5,344.5 34.5,347.5 42.5,360.5 50.5,362.5 58.5,365.5 66.5,367.5 74.5,367.5 82.5,367.5 90.5,367.5 98.5,367.5 106.5,367.5 114.5,367.5 122.5,367.5 130.5,367.5 138.5,367.5 146.5,367.5 154.5,367.5 162.5,367.5 170.5,367.5 178.5,367.5 186.5,367.5 194.5,367.5 202.5,366.5 210.5,366.5 218.5,366.5 226.5,366.5 234.5,366.5 242.5,366.5 250.5,364.5 258.5,362.5 266.5,345.5 274.5,341.5 282.5,341.5 290.5,341.5 298.5,341.5 306.5,341.5 314.5,341.5 322.5,345.5 330.5,359.5 338.5,359.5 346.5,359.5 354.5,359.5 362.5,361.5 370.5,364.5 378.5,364.5 386.5,364.5 394.5,364.5 402.5,364.5 410.5,364.5 418.5,364.5 426.5,364.5 434.5,364.5 442.5,364.5 450.5,364.5 458.5,364.5 466.5,364.5 474.5,364.5 482.5,364.5 490.5,364.5 498.5,364.5 506.5,364.5 514.5,364.5 522.5,364.5 530.5,364.5 538.5,362.5 546.5,359.5 554.5,357.5 562.5,352.5 570.5,351.5 578.5,326.5 586.5,300.5 594.5,300.5" fill="none" stroke="#ffe2b4" stroke-width="1" shape-rendering="crispEdges"/>
<line x1="2" y1="316.5" x2="601" y2="316.5" stroke="#c0c0c0" stroke-width="1" stroke-dasharray="3,3" shape-rendering="crispEdges"/>
<polyline points="2.5,373.0 10.5,373.0 18.5,373.0 26.5,361.0 34.5,361.0" fill="none" stroke="#ffa000" stroke-width="2" shape-rendering="crispEdges"/>
<polyline points="34.5,361.0 42.5,361.0" fill="none" stroke="#a4a6aa" stroke-width="2" shape-rendering="crispEdges"/>
<polyline points="42.5,361.0 50.5,376.0 58.5,376.0" fill="none" stroke="#ffa000" stroke-width="2" shape-rendering="crispEdges"/>
<polyline points="58.5,376.0 66.5,366.0 74.5,366.0 82.5,366.0 90.5,366.0 98.5,365.0 106.5,362.0" fill="none" stroke="#a4a6aa" stroke-width="2" shape-rendering="crispEdges"/>
<polyline points="106.5,362.0 114.5,339.0 122.5,339.0 130.5,339.0 138.5,289.0 146.5,289.0 154.5,284.0 162.5,284.0 170.5,284.0 178.5,284.0 186.5,284.0" fill="none" stroke="#22c422" stroke-width="2" shape-rendering="crispEdges"/>
<polyline points="186.5,284.0 194.5,284.0 202.5,284.0 210.5,284.0 218.5,284.0 226.5,284.0 234.5,341.0 242.5,341.0 250.5,341.0 258.5,341.0 266.5,341.0 274.5,341.0 282.5,341.0" fill="none" stroke="#a4a6aa" stroke-width="2" shape-rendering="crispEdges"/>
<polyline points="282.5,341.0 290.5,359.0 298.5,359.0 306.5,359.0 314.5,359.0 322.5,359.0 330.5,370.0 338.5,370.0 346.5,370.0 354.5,370.0 362.5,364.0" fill="none" stroke="#ffa000" stroke-width="2" shape-rendering="crispEdges"/>
<polyline points="362.5,364.0 370.5,364.0 378.5,364.0 386.5,361.0 394.5,359.0 402.5,356.0 410.5,351.0 418.5,351.0" fill="none" stroke="#a4a6aa" stroke-width="2" shape-rendering="crispEdges"/>
<polyline points="418.5,351.0 426.5,318.0 434.5,284.5 442.5,282.0 450.5,282.0 458.5,282.0 466.5,282.0 474.5,282.0" fill="none" stroke="#22c422" stroke-width="2" shape-rendering="crispEdges"/>
<polyline points="474.5,282.0 482.5,282.0 490.5,282.0 498.5,282.0 506.5,282.0 514.5,282.0 522.5,282.0 530.5,282.0 538.5,284.0 546.5,289.0 554.5,289.0 562.5,294.0 570.5,294.0 578.5,299.0 586.5,299.0" fill="none" stroke="#a4a6aa" stroke-width="2" shape-rendering="crispEdges"/>
<polyline points="586.5,299.0 594.5,309.0" fill="none" stroke="#ffa000" stroke-width="2" shape-rendering="crispEdges"/>
</g>
<clipPath id="mc"><rect x="3" y="3" width="594" height="249"/></clipPath>
<g shape-rendering="crispEdges">
<rect x="3" y="212" width="594" height="1" fill="#778899"/>
<g clip-path="url(#mc)">
<rect x="2" y="55" width="1" height="79" fill="#8e0000"/>
<rect x="0" y="55" width="5" height="79" fill="#8e0000"/>
<rect x="1" y="56" width="3" height="77" fill="#ff0000"/>
<rect x="10" y="111" width="1" height="38" fill="#000"/>
<rect x="8" y="132" width="5" height="2" fill="#000"/>
<rect x="18" y="119" width="1" height="39" fill="#8e0000"/>
<rect x="16" y="135" width="5" height="10" fill="#8e0000"/>
<rect x="17" y="136" width="3" height="8" fill="#ff0000"/>
<rect x="26" y="137" width="1" height="39" fill="#8e0000"/>
<rect x="24" y="144" width="5" height="9" fill="#8e0000"/>
<rect x="25" y="145" width="3" height="7" fill="#ff0000"/>
<rect x="34" y="121" width="1" height="51" fill="#8e0000"/>
<rect x="32" y="152" width="5" height="8" fill="#8e0000"/>
<rect x="33" y="153" width="3" height="6" fill="#ff0000"/>
<rect x="42" y="132" width="1" height="36" fill="#000"/>
<rect x="40" y="142" width="5" height="18" fill="#000"/>
<rect x="41" y="143" width="3" height="16" fill="#3cb371"/>
<rect x="50" y="136" width="1" height="78" fill="#8e0000"/>
<rect x="48" y="142" width="5" height="2" fill="#8e0000"/>
<rect x="58" y="121" width="1" height="29" fill="#000"/>
<rect x="56" y="126" width="5" height="18" fill="#000"/>
<rect x="57" y="127" width="3" height="16" fill="#3cb371"/>
<rect x="66" y="111" width="1" height="24" fill="#000"/>
<rect x="64" y="127" width="5" height="2" fill="#000"/>
<rect x="74" y="121" width="1" height="38" fill="#8e0000"/>
<rect x="72" y="127" width="5" height="28" fill="#8e0000"/>
<rect x="73" y="128" width="3" height="26" fill="#ff0000"/>
<rect x="82" y="148" width="1" height="32" fill="#8e0000"/>
<rect x="80" y="154" width="5" height="17" fill="#8e0000"/>
<rect x="81" y="155" width="3" height="15" fill="#ff0000"/>
<rect x="90" y="139" width="1" height="55" fill="#000"/>
<rect x="88" y="147" width="5" height="24" fill="#000"/>
<rect x="89" y="148" width="3" height="22" fill="#3cb371"/>
<rect x="98" y="121" width="1" height="56" fill="#000"/>
<rect x="96" y="128" width="5" height="20" fill="#000"/>
<rect x="97" y="129" width="3" height="18" fill="#3cb371"/>
<rect x="106" y="92" width="1" height="43" fill="#000"/>
<rect x="104" y="108" width="5" height="21" fill="#000"/>
<rect x="105" y="109" width="3" height="19" fill="#3cb371"/>
<rect x="114" y="103" width="1" height="17" fill="#000"/>
<rect x="112" y="109" width="5" height="1" fill="#000"/>
<rect x="122" y="103" width="1" height="20" fill="#000"/>
<rect x="120" y="105" width="5" height="5" fill="#000"/>
<rect x="121" y="106" width="3" height="3" fill="#3cb371"/>
<rect x="130" y="100" width="1" height="37" fill="#8e0000"/>
<rect x="128" y="106" width="5" height="24" fill="#8e0000"/>
<rect x="129" y="107" width="3" height="22" fill="#ff0000"/>
<rect x="138" y="30" width="1" height="109" fill="#000"/>
<rect x="136" y="53" width="5" height="77" fill="#000"/>
<rect x="137" y="54" width="3" height="75" fill="#3cb371"/>
<rect x="146" y="36" width="1" height="67" fill="#000"/>
<rect x="144" y="48" width="5" height="6" fill="#000"/>
<rect x="145" y="49" width="3" height="4" fill="#3cb371"/>
<rect x="154" y="15" width="1" height="36" fill="#8e0000"/>
<rect x="152" y="48" width="5" height="3" fill="#8e0000"/>
<rect x="153" y="49" width="3" height="1" fill="#ff0000"/>
<rect x="162" y="37" width="1" height="15" fill="#8e0000"/>
<rect x="160" y="47" width="5" height="4" fill="#8e0000"/>
<rect x="161" y="48" width="3" height="2" fill="#ff0000"/>
<rect x="170" y="30" width="1" height="24" fill="#8e0000"/>
<rect x="168" y="50" width="5" height="2" fill="#8e0000"/>
<rect x="178" y="26" width="1" height="59" fill="#8e0000"/>
<rect x="176" y="51" width="5" height="19" fill="#8e0000"/>
<rect x="177" y="52" width="3" height="17" fill="#ff0000"/>
<rect x="186" y="64" width="1" height="27" fill="#8e0000"/>
<rect x="184" y="69" width="5" height="11" fill="#8e0000"/>
<rect x="185" y="70" width="3" height="9" fill="#ff0000"/>
<rect x="194" y="71" width="1" height="41" fill="#8e0000"/>
<rect x="192" y="79" width="5" height="4" fill="#8e0000"/>
<rect x="193" y="80" width="3" height="2" fill="#ff0000"/>
<rect x="202" y="80" width="1" height="30" fill="#8e0000"/>
<rect x="200" y="83" width="5" height="15" fill="#8e0000"/>
<rect x="201" y="84" width="3" height="13" fill="#ff0000"/>
<rect x="210" y="87" width="1" height="27" fill="#8e0000"/>
<rect x="208" y="97" width="5" height="1" fill="#8e0000"/>
<rect x="218" y="83" width="1" height="21" fill="#8e0000"/>
<rect x="216" y="97" width="5" height="6" fill="#8e0000"/>
<rect x="217" y="98" width="3" height="4" fill="#ff0000"/>
<rect x="226" y="99" width="1" height="75" fill="#8e0000"/>
<rect x="224" y="102" width="5" height="27" fill="#8e0000"/>
<rect x="225" y="103" width="3" height="25" fill="#ff0000"/>
<rect x="234" y="119" width="1" height="97" fill="#8e0000"/>
<rect x="232" y="128" width="5" height="82" fill="#8e0000"/>
<rect x="233" y="129" width="3" height="80" fill="#ff0000"/>
<rect x="242" y="149" width="1" height="63" fill="#000"/>
<rect x="240" y="152" width="5" height="58" fill="#000"/>
<rect x="241" y="153" width="3" height="56" fill="#3cb371"/>
<rect x="250" y="144" width="1" height="22" fill="#8e0000"/>
<rect x="248" y="152" width="5" height="5" fill="#8e0000"/>
<rect x="249" y="153" width="3" height="3" fill="#ff0000"/>
<rect x="258" y="142" width="1" height="17" fill="#000"/>
<rect x="256" y="151" width="5" height="6" fill="#000"/>
<rect x="257" y="152" width="3" height="4" fill="#3cb371"/>
<rect x="266" y="144" width="1" height="13" fill="#000"/>
<rect x="264" y="145" width="5" height="7" fill="#000"/>
<rect x="265" y="146" width="3" height="5" fill="#3cb371"/>
<rect x="274" y="126" width="1" height="84" fill="#8e0000"/>
<rect x="272" y="146" width="5" height="21" fill="#8e0000"/>
<rect x="273" y="147" width="3" height="19" fill="#ff0000"/>
<rect x="282" y="149" width="1" height="55" fill="#8e0000"/>
<rect x="280" y="166" width="5" height="29" fill="#8e0000"/>
<rect x="281" y="167" width="3" height="27" fill="#ff0000"/>
<rect x="290" y="178" width="1" height="45" fill="#8e0000"/>
<rect x="288" y="195" width="5" height="3" fill="#8e0000"/>
<rect x="289" y="196" width="3" height="1" fill="#ff0000"/>
<rect x="298" y="100" width="1" height="99" fill="#000"/>
<rect x="296" y="115" width="5" height="82" fill="#000"/>
<rect x="297" y="116" width="3" height="80" fill="#3cb371"/>
<rect x="306" y="99" width="1" height="19" fill="#000"/>
<rect x="304" y="115" width="5" height="1" fill="#000"/>
<rect x="314" y="86" width="1" height="30" fill="#000"/>
<rect x="312" y="100" width="5" height="15" fill="#000"/>
<rect x="313" y="101" width="3" height="13" fill="#3cb371"/>
<rect x="322" y="86" width="1" height="76" fill="#8e0000"/>
<rect x="320" y="100" width="5" height="59" fill="#8e0000"/>
<rect x="321" y="101" width="3" height="57" fill="#ff0000"/>
<rect x="330" y="152" width="1" height="95" fill="#8e0000"/>
<rect x="328" y="157" width="5" height="51" fill="#8e0000"/>
<rect x="329" y="158" width="3" height="49" fill="#ff0000"/>
<rect x="338" y="131" width="1" height="78" fill="#000"/>
<rect x="336" y="147" width="5" height="61" fill="#000"/>
<rect x="337" y="148" width="3" height="59" fill="#3cb371"/>
<rect x="346" y="134" width="1" height="43" fill="#8e0000"/>
<rect x="344" y="147" width="5" height="24" fill="#8e0000"/>
<rect x="345" y="148" width="3" height="22" fill="#ff0000"/>
<rect x="354" y="160" width="1" height="29" fill="#000"/>
<rect x="352" y="164" width="5" height="7" fill="#000"/>
<rect x="353" y="165" width="3" height="5" fill="#3cb371"/>
<rect x="362" y="149" width="1" height="21" fill="#000"/>
<rect x="360" y="152" width="5" height="13" fill="#000"/>
<rect x="361" y="153" width="3" height="11" fill="#3cb371"/>
<rect x="370" y="125" width="1" height="48" fill="#000"/>
<rect x="368" y="139" width="5" height="14" fill="#000"/>
<rect x="369" y="140" width="3" height="12" fill="#3cb371"/>
<rect x="378" y="106" width="1" height="54" fill="#000"/>
<rect x="376" y="137" width="5" height="3" fill="#000"/>
<rect x="377" y="138" width="3" height="1" fill="#3cb371"/>
<rect x="386" y="122" width="1" height="41" fill="#000"/>
<rect x="384" y="137" width="5" height="1" fill="#000"/>
<rect x="394" y="114" width="1" height="35" fill="#000"/>
<rect x="392" y="126" width="5" height="12" fill="#000"/>
<rect x="393" y="127" width="3" height="10" fill="#3cb371"/>
<rect x="402" y="124" width="1" height="13" fill="#8e0000"/>
<rect x="400" y="124" width="5" height="11" fill="#8e0000"/>
<rect x="401" y="125" width="3" height="9" fill="#ff0000"/>
<rect x="410" y="120" width="1" height="16" fill="#8e0000"/>
<rect x="408" y="134" width="5" height="2" fill="#8e0000"/>
<rect x="418" y="129" width="1" height="32" fill="#8e0000"/>
<rect x="416" y="135" width="5" height="14" fill="#8e0000"/>
<rect x="417" y="136" width="3" height="12" fill="#ff0000"/>
<rect x="426" y="95" width="1" height="59" fill="#000"/>
<rect x="424" y="99" width="5" height="50" fill="#000"/>
<rect x="425" y="100" width="3" height="48" fill="#3cb371"/>
<rect x="434" y="42" width="1" height="61" fill="#000"/>
<rect x="432" y="42" width="5" height="58" fill="#000"/>
<rect x="433" y="43" width="3" height="56" fill="#3cb371"/>
<rect x="442" y="39" width="1" height="27" fill="#8e0000"/>
<rect x="440" y="42" width="5" height="13" fill="#8e0000"/>
<rect x="441" y="43" width="3" height="11" fill="#ff0000"/>
<rect x="450" y="52" width="1" height="12" fill="#8e0000"/>
<rect x="448" y="56" width="5" height="1" fill="#8e0000"/>
<rect x="458" y="43" width="1" height="28" fill="#8e0000"/>
<rect x="456" y="56" width="5" height="10" fill="#8e0000"/>
<rect x="457" y="57" width="3" height="8" fill="#ff0000"/>
<rect x="466" y="65" width="1" height="52" fill="#8e0000"/>
<rect x="464" y="65" width="5" height="47" fill="#8e0000"/>
<rect x="465" y="66" width="3" height="45" fill="#ff0000"/>
<rect x="474" y="107" width="1" height="36" fill="#8e0000"/>
<rect x="472" y="111" width="5" height="12" fill="#8e0000"/>
<rect x="473" y="112" width="3" height="10" fill="#ff0000"/>
<rect x="482" y="109" width="1" height="28" fill="#000"/>
<rect x="480" y="118" width="5" height="5" fill="#000"/>
<rect x="481" y="119" width="3" height="3" fill="#3cb371"/>
<rect x="490" y="118" width="1" height="21" fill="#8e0000"/>
<rect x="488" y="118" width="5" height="5" fill="#8e0000"/>
<rect x="489" y="119" width="3" height="3" fill="#ff0000"/>
<rect x="498" y="116" width="1" height="22" fill="#8e0000"/>
<rect x="496" y="122" width="5" height="16" fill="#8e0000"/>
<rect x="497" y="123" width="3" height="14" fill="#ff0000"/>
<rect x="506" y="116" width="1" height="24" fill="#000"/>
<rect x="504" y="126" width="5" height="12" fill="#000"/>
<rect x="505" y="127" width="3" height="10" fill="#3cb371"/>
<rect x="514" y="83" width="1" height="66" fill="#000"/>
<rect x="512" y="86" width="5" height="41" fill="#000"/>
<rect x="513" y="87" width="3" height="39" fill="#3cb371"/>
<rect x="522" y="64" width="1" height="41" fill="#000"/>
<rect x="520" y="80" width="5" height="7" fill="#000"/>
<rect x="521" y="81" width="3" height="5" fill="#3cb371"/>
<rect x="530" y="49" width="1" height="42" fill="#000"/>
<rect x="528" y="72" width="5" height="9" fill="#000"/>
<rect x="529" y="73" width="3" height="7" fill="#3cb371"/>
<rect x="538" y="44" width="1" height="29" fill="#000"/>
<rect x="536" y="62" width="5" height="11" fill="#000"/>
<rect x="537" y="63" width="3" height="9" fill="#3cb371"/>
<rect x="546" y="51" width="1" height="15" fill="#000"/>
<rect x="544" y="62" width="5" height="1" fill="#000"/>
<rect x="554" y="61" width="1" height="21" fill="#8e0000"/>
<rect x="552" y="62" width="5" height="10" fill="#8e0000"/>
<rect x="553" y="63" width="3" height="8" fill="#ff0000"/>
<rect x="562" y="64" width="1" height="30" fill="#8e0000"/>
<rect x="560" y="70" width="5" height="20" fill="#8e0000"/>
<rect x="561" y="71" width="3" height="18" fill="#ff0000"/>
<rect x="570" y="61" width="1" height="33" fill="#000"/>
<rect x="568" y="75" width="5" height="15" fill="#000"/>
<rect x="569" y="76" width="3" height="13" fill="#3cb371"/>
<rect x="578" y="61" width="1" height="29" fill="#000"/>
<rect x="576" y="68" width="5" height="8" fill="#000"/>
<rect x="577" y="69" width="3" height="6" fill="#3cb371"/>
<rect x="586" y="55" width="1" height="22" fill="#8e0000"/>
<rect x="584" y="68" width="5" height="7" fill="#8e0000"/>
<rect x="585" y="69" width="3" height="5" fill="#ff0000"/>
<rect x="594" y="69" width="1" height="14" fill="#8e0000"/>
<rect x="592" y="75" width="5" height="4" fill="#8e0000"/>
<rect x="593" y="76" width="3" height="2" fill="#ff0000"/>
</g>
<rect x="2" y="2" width="596" height="1" fill="#000"/>
<rect x="2" y="252" width="596" height="1" fill="#000"/>
<rect x="2" y="2" width="1" height="251" fill="#000"/>
<rect x="597" y="2" width="1" height="251" fill="#000"/>
<rect x="2" y="254" width="596" height="1" fill="#000"/>
<rect x="598" y="255" width="4" height="1" fill="#000"/>
<rect x="2" y="378" width="600" height="1" fill="#000"/>
<rect x="2" y="254" width="1" height="125" fill="#000"/>
<rect x="597" y="254" width="1" height="125" fill="#000"/>
<rect x="598" y="24" width="4" height="1" fill="#000"/>
<rect x="598" y="57" width="4" height="1" fill="#000"/>
<rect x="598" y="89" width="4" height="1" fill="#000"/>
<rect x="598" y="122" width="4" height="1" fill="#000"/>
<rect x="598" y="154" width="4" height="1" fill="#000"/>
<rect x="598" y="187" width="4" height="1" fill="#000"/>
<rect x="598" y="219" width="4" height="1" fill="#000"/>
<rect x="2" y="379" width="1" height="4" fill="#000"/>
<rect x="66" y="379" width="1" height="4" fill="#000"/>
<rect x="130" y="379" width="1" height="4" fill="#000"/>
<rect x="194" y="379" width="1" height="4" fill="#000"/>
<rect x="258" y="379" width="1" height="4" fill="#000"/>
<rect x="322" y="379" width="1" height="4" fill="#000"/>
<rect x="386" y="379" width="1" height="4" fill="#000"/>
<rect x="450" y="379" width="1" height="4" fill="#000"/>
<rect x="514" y="379" width="1" height="4" fill="#000"/>
<rect x="578" y="379" width="1" height="4" fill="#000"/>
</g>
<g stroke="#000" stroke-width="0.18">
<text x="6.3" y="13" fill="#000" textLength="54.5" lengthAdjust="spacingAndGlyphs">EURUSD,H4</text>
<text x="67" y="13" fill="#000" textLength="33" lengthAdjust="spacingAndGlyphs">1.16895</text>
<text x="103" y="13" fill="#000" textLength="33" lengthAdjust="spacingAndGlyphs">1.16933</text>
<text x="139" y="13" fill="#000" textLength="33" lengthAdjust="spacingAndGlyphs">1.16863</text>
<text x="175" y="13" fill="#000" textLength="33" lengthAdjust="spacingAndGlyphs">1.16887</text>
<text x="5.8" y="267" fill="#000" textLength="117" lengthAdjust="spacingAndGlyphs">4 hours Arron oscillator(25,0)</text>
<text x="126.6" y="267" fill="#000" textLength="43" lengthAdjust="spacingAndGlyphs">25.600000</text>
<text x="172.6" y="267" fill="#000" textLength="46" lengthAdjust="spacingAndGlyphs">-32.000000</text>
<text x="221.7" y="267" fill="#000" textLength="43" lengthAdjust="spacingAndGlyphs">48.000000</text>
<text x="603.3" y="28" fill="#000" textLength="32.5" lengthAdjust="spacingAndGlyphs">1.18390</text>
<text x="603.3" y="61" fill="#000" textLength="32.5" lengthAdjust="spacingAndGlyphs">1.18130</text>
<text x="603.3" y="93" fill="#000" textLength="32.5" lengthAdjust="spacingAndGlyphs">1.17870</text>
<text x="603.3" y="126" fill="#000" textLength="32.5" lengthAdjust="spacingAndGlyphs">1.17610</text>
<text x="603.3" y="158" fill="#000" textLength="32.5" lengthAdjust="spacingAndGlyphs">1.17350</text>
<text x="603.3" y="191" fill="#000" textLength="32.5" lengthAdjust="spacingAndGlyphs">1.17090</text>
<text x="603.3" y="223" fill="#000" textLength="32.5" lengthAdjust="spacingAndGlyphs">1.16830</text>
<rect x="600" y="207" width="39" height="11" fill="#778899" shape-rendering="crispEdges"/>
<text x="603.3" y="216" fill="#fff" stroke="#fff" textLength="32.5" lengthAdjust="spacingAndGlyphs">1.16887</text>
<text x="603" y="263" fill="#000" textLength="48" lengthAdjust="spacingAndGlyphs">101.000000</text>
<text x="602.6" y="319" fill="#000" textLength="38" lengthAdjust="spacingAndGlyphs">0.000000</text>
<text x="602.7" y="377" fill="#000" textLength="51" lengthAdjust="spacingAndGlyphs">-101.000000</text>
<text x="1.7" y="392" fill="#000" textLength="47.5" lengthAdjust="spacingAndGlyphs">8 Aug 2017</text>
<text x="66" y="392" fill="#000" textLength="55" lengthAdjust="spacingAndGlyphs">10 Aug 00:00</text>
<text x="130" y="392" fill="#000" textLength="55" lengthAdjust="spacingAndGlyphs">11 Aug 08:00</text>
<text x="194" y="392" fill="#000" textLength="55" lengthAdjust="spacingAndGlyphs">14 Aug 16:00</text>
<text x="258" y="392" fill="#000" textLength="55" lengthAdjust="spacingAndGlyphs">16 Aug 00:00</text>
<text x="322" y="392" fill="#000" textLength="55" lengthAdjust="spacingAndGlyphs">17 Aug 08:00</text>
<text x="386" y="392" fill="#000" textLength="55" lengthAdjust="spacingAndGlyphs">18 Aug 16:00</text>
<text x="450" y="392" fill="#000" textLength="55" lengthAdjust="spacingAndGlyphs">22 Aug 00:00</text>
<text x="514" y="392" fill="#000" textLength="55" lengthAdjust="spacingAndGlyphs">23 Aug 08:00</text>
<text x="578" y="392" fill="#000" textLength="55" lengthAdjust="spacingAndGlyphs">24 Aug 16:00</text>
</g>
</svg>
</body></html>
